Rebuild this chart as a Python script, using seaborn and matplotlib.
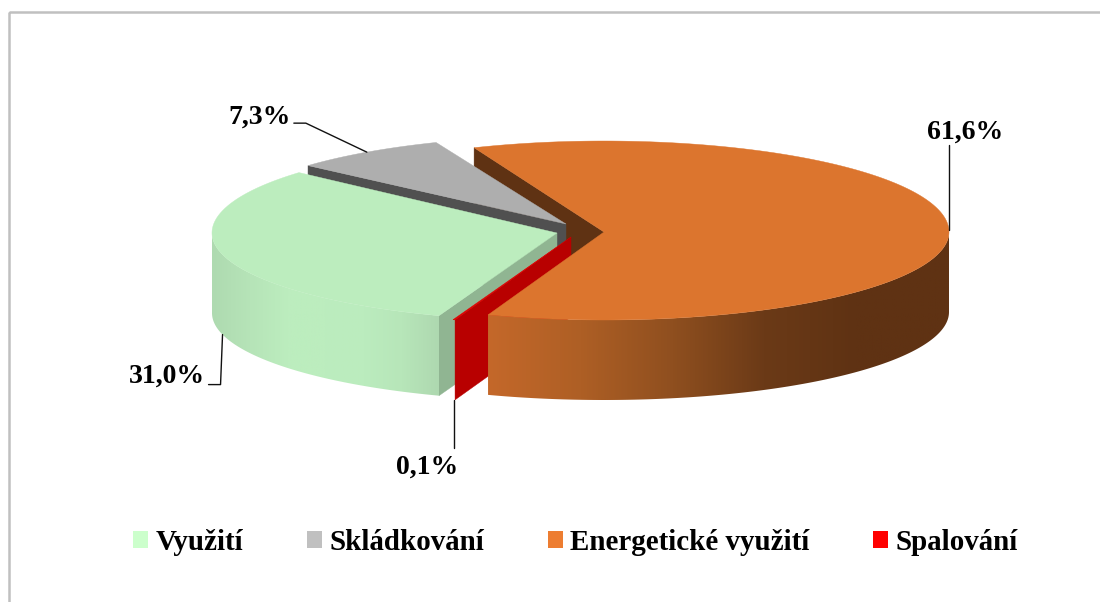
import numpy as np
import matplotlib
matplotlib.use('Agg')
import matplotlib.pyplot as plt
from matplotlib.colors import LinearSegmentedColormap
from matplotlib.patches import Patch, Polygon, Rectangle
import seaborn as sns

# values
categories = ['Využití', 'Skládkování', 'Energetické využití', 'Spalování']
shares = [31.0, 7.3, 61.6, 0.1]
share_labels = ['31,0%', '7,3%', '61,6%', '0,1%']
legend_colors = ['#ccffcc', '#c0c0c0', '#ed7d31', '#ff0000']
top_colors = ['#bcedbe', '#aeaeae', '#dc752e', '#e00000']
face_colors = ['#90b592', '#505050', '#5f3213', '#b80000']

# pie look: canvas is in pixels, y going down
first_angle = 200.0
rx, ry, depth = 345, 88, 80
ry_back = [91, 88, 91, 88]  # perspective stretches the far half a little
apex = [(557, 233), (566, 224), (604, 232), (571, 237)]

# shading of the outer wall, left to right
green_wall_c = ['#aedab0', '#b6e4b8', '#bcedbe', '#bcedbe', '#bbecbe', '#b7e6b9', '#aed8b0']
orange_wall_c = ['#c4682a', '#ae5f25', '#8f4f1f', '#6b3a17', '#5f3213', '#5f3213']

sns.set_theme(style='white')
plt.rcParams['font.family'] = ['Liberation Serif', 'DejaVu Serif']

fig, ax = plt.subplots(figsize=(11, 6.02), dpi=100)
ax.set_position([0, 0, 1, 1])
ax.axis('off')

# slice edges, clockwise from the top
edges = first_angle + np.cumsum([0] + shares) * 3.6


def rim(i, deg):
    a = np.radians(deg)
    c = np.cos(a)
    return apex[i][0] + rx * np.sin(a), apex[i][1] - np.where(c > 0, ry_back[i], ry) * c


def top_face(i, color, z):
    angs = np.linspace(edges[i], edges[i + 1], 200)
    xs, ys = rim(i, angs)
    ax.fill(np.r_[apex[i][0], xs], np.r_[apex[i][1], ys], color=color, lw=0.3, zorder=z)


def cut_face(i, deg, color, z):
    x, y = rim(i, deg)
    ax.fill([apex[i][0], x, x, apex[i][0]],
            [apex[i][1], y, y + depth, apex[i][1] + depth], color=color, lw=0.3, zorder=z)


def outer_wall(i, a0, a1, stops, z):
    angs = np.linspace(a0, a1, 200)
    xs, ys = rim(i, angs)
    outline = np.c_[np.r_[xs, xs[::-1]], np.r_[ys, ys[::-1] + depth]]
    cmap = LinearSegmentedColormap.from_list('wall', stops)
    img = ax.imshow(np.linspace(0, 1, 256)[None, :], cmap=cmap, aspect='auto', zorder=z,
                    extent=[xs.min(), xs.max(), outline[:, 1].max(), outline[:, 1].min()])
    img.set_clip_path(Polygon(outline, transform=ax.transData))


# back to front
cut_face(2, edges[2], face_colors[2], 1)
cut_face(1, edges[1], face_colors[1], 2)
top_face(1, top_colors[1], 3)
cut_face(0, edges[0], face_colors[0], 4)
outer_wall(0, edges[0], 270, green_wall_c, 4)
top_face(0, top_colors[0], 5)
cut_face(3, edges[3], face_colors[3], 6)
top_face(3, top_colors[3], 6)
outer_wall(2, 450, edges[3], orange_wall_c, 7)
top_face(2, top_colors[2], 8)

ax.set_xlim(0, 1100)
ax.set_ylim(602, 0)

# leader lines start from the middle of each slice
mids = (edges[:-1] + edges[1:]) / 2
label_size = 20

x, y = rim(0, mids[0])
y += depth
ax.plot([x, x - 2, x - 14], [y, y + 50, y + 50], color='#111111', lw=1.0, zorder=9)
ax.text(x - 18, y + 42, share_labels[0], ha='right', va='center', fontsize=label_size, fontweight='bold', color='black')

x, y = rim(1, mids[1])
ax.plot([x, x - 61, x - 73], [y, y - 29, y - 29], color='#111111', lw=1.0, zorder=9)
ax.text(x - 76, y - 35, share_labels[1], ha='right', va='center', fontsize=label_size, fontweight='bold', color='black')

x, y = rim(2, mids[2])
ax.plot([x, x], [y, y - 85], color='#111111', lw=1.0, zorder=9)
ax.text(x + 16, y - 98, share_labels[2], ha='center', va='center', fontsize=label_size, fontweight='bold', color='black')

x, y = rim(3, mids[3])
y += depth
ax.plot([x, x], [y, y + 48], color='#111111', lw=1.0, zorder=9)
ax.text(x + 4, y + 67, share_labels[3], ha='right', va='center', fontsize=label_size, fontweight='bold', color='black')

# chart frame, right and bottom sides run off the canvas
ax.add_patch(Rectangle((9, 12), 1300, 800, fill=False, ec='#c0c0c0', lw=1.8, zorder=0))

handles = [Patch(facecolor=c, edgecolor='none', label=n) for c, n in zip(legend_colors, categories)]
ax.legend(handles=handles, ncol=4, loc='center', bbox_to_anchor=(575.5, 542), bbox_transform=ax.transData,
          frameon=False, handlelength=0.52, handleheight=0.52, handletextpad=0.25, columnspacing=2.2,
          borderpad=0, labelcolor='black', prop={'size': 20.9, 'weight': 'bold'})

plt.savefig('out.png', dpi=100)
